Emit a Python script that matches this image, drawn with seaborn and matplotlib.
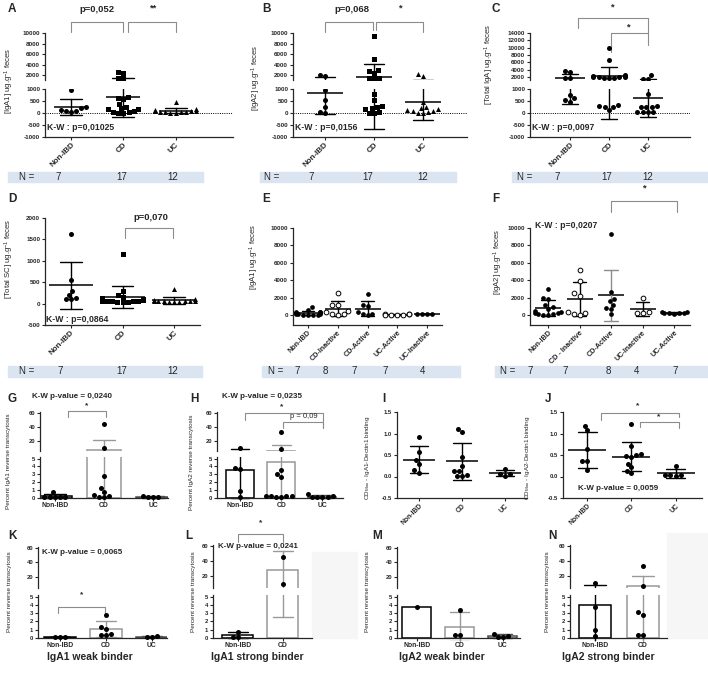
import pandas as pd
import matplotlib
matplotlib.use("Agg")
import matplotlib.pyplot as plt
from matplotlib.patches import Rectangle
from matplotlib.transforms import blended_transform_factory
import seaborn as sns
import warnings

warnings.filterwarnings("ignore")

# values
groups = ["Non-IBD", "CD", "UC"]
groups_e = ["Non-IBD", "CD-Inactive", "CD-Active", "UC-Active", "UC-Inactive"]
groups_f = ["Non-IBD", "CD - Inactive", "CD-Active", "UC-Inactive", "UC-Active"]

iga1 = {"Non-IBD": [950, 230, 210, 130, 90, 70, 60],
        "CD": [2600, 2500, 1450, 1450, 650, 610, 600, 380, 240, 200, 180, 150, 100, 50, 30, 20, 10],
        "UC": [470, 150, 120, 100, 100, 80, 60, 50, 40, 30, 20, 10]}
iga2 = {"Non-IBD": [2000, 1950, 950, 540, 260, 30, 20],
        "CD": [9400, 5100, 3100, 2800, 2500, 1500, 1450, 1500, 800, 550, 300, 200, 150, 60, 10, 20, 250],
        "UC": [2200, 1900, 450, 240, 200, 150, 120, 100, 80, 50, 20, 10]}
total_iga = {"Non-IBD": [3600, 3300, 1850, 1800, 750, 610, 540, 470],
             "CD": [10000, 6700, 2500, 2300, 2200, 2100, 2000, 2000, 1900, 1800, 1800, 1700,
                    330, 240, 130, 240, 290],
             "UC": [2500, 1400, 1400, 800, 300, 250, 230, 230, 60, 40, 30, 50]}
total_sc = {"Non-IBD": [1630, 540, 300, 120, 110, 100, 210],
            "CD": [1150, 300, 200, 150, 120, 100, 100, 90, 80, 70, 60, 60, 50, 50, 40, 40, 30],
            "UC": [330, 100, 80, 70, 60, 60, 50, 50, 40, 40, 30, 50]}
iga1_activity = {"Non-IBD": [900, 600, 400, 300, 250, 200, 150, 100, 100, 50, 50, 30, 20, 300, 200],
                 "CD-Inactive": [2500, 1200, 1100, 500, 400, 100, 50, 100],
                 "CD-Active": [2400, 1100, 1000, 300, 100, 50, 100],
                 "UC-Active": [100, 80, 50, 30, 40, 60, 20],
                 "UC-Inactive": [120, 60, 80, 150]}
iga2_activity = {"Non-IBD": [3000, 1900, 1850, 1100, 900, 700, 500, 300, 200, 100, 50, 50, 100, 200],
                 "CD - Inactive": [5200, 3900, 2500, 2200, 300, 50, 100, 250],
                 "CD-Active": [9300, 2700, 1800, 1600, 1200, 800, 700, 100],
                 "UC-Inactive": [1900, 300, 200, 250],
                 "UC-Active": [400, 250, 200, 150, 200, 250, 300]}
transcyt_iga1 = {"Non-IBD": [0.1, 0.1, 0.15, 0.1, 0.7, 0.1],
                 "CD": [44, 10, 2.8, 1.3, 0.8, 0.2, 0.05, 0.4, 0.1],
                 "UC": [0.1, 0.05, 0.1, 0.3]}
transcyt_iga2 = {"Non-IBD": [9.4, 3.8, 3.7, 0.9, 0.1],
                 "CD": [32, 8, 3.5, 3.0, 2.7, 0.25, 0.1, 0.05, 0.2, 0.25, 0.3],
                 "UC": [0.1, 0.05, 0.05, 0.1, 0.2, 0.5]}
dectin_iga1 = {"Non-IBD": [0.93, 0.56, 0.38, 0.28, 0.14, 0.08],
               "CD": [1.11, 1.04, 0.45, 0.25, 0.12, 0.12, 0.03, 0.02, 0.02],
               "UC": [0.18, 0.05, 0.02, 0.05]}
dectin_iga2 = {"Non-IBD": [1.17, 1.07, 0.64, 0.35, 0.35, 0.15],
               "CD": [1.23, 0.70, 0.52, 0.50, 0.48, 0.45, 0.30, 0.22, 0.13, 0.07],
               "UC": [0.25, 0.03, 0.02, 0.03, 0.04]}
iga1_weak = {"Non-IBD": [0.1, 0.05, 0.1], "CD": [2.8, 1.3, 1.06, 0.5, 0.3, 0.3], "UC": [0.25, 0.05, 0.1]}
iga1_strong = {"Non-IBD": [0.75, 0.05, 0.1], "CD": [46, 10]}
iga2_weak = {"Non-IBD": [3.7], "CD": [3.4, 0.3, 0.3], "UC": [0.15, 0.05, 0.1, 0.5]}
iga2_strong = {"Non-IBD": [11, 3.8, 1.0, 0.2], "CD": [33.4, 7.5, 3.1, 2.8, 0.3, 0.3]}

n_abc = ["7", "17", "12"]
n_e = ["7", "8", "7", "7", "4"]
n_f = ["7", "7", "8", "4", "7"]

sns.set_style("ticks")
plt.rcParams["font.family"] = ["Liberation Sans", "DejaVu Sans"]
plt.rcParams["font.weight"] = "bold"
plt.rcParams["mathtext.fontset"] = "custom"
plt.rcParams["mathtext.rm"] = "Liberation Sans"
plt.rcParams["mathtext.it"] = "Liberation Sans:italic"
plt.rcParams["mathtext.bf"] = "Liberation Sans:bold"
plt.rcParams["axes.unicode_minus"] = False
plt.rcParams["axes.linewidth"] = 0.9

W, H = 708, 677
fig = plt.figure(figsize=(W / 100, H / 100), dpi=100)
ov = fig.add_axes([0, 0, 1, 1])
ov.set_xlim(0, W)
ov.set_ylim(H, 0)
ov.axis("off")


def px_axes(x0, x1, y0, y1):
    ax = fig.add_axes([x0 / W, 1 - y1 / H, (x1 - x0) / W, (y1 - y0) / H])
    ax.set_facecolor("none")
    return ax


def to_long(d):
    return pd.DataFrame([(g, v) for g, vals in d.items() for v in vals], columns=["group", "value"])


def in_range(sub, lim):
    return sub[(sub["value"] >= lim[0]) & (sub["value"] <= lim[1])]


def finish(ax, xlim, ylim, yticks, fs_y, fs_x=None, zero_spine=False):
    ax.set_xlim(*xlim)
    ax.set_ylim(*ylim)
    ax.set_yticks(yticks)
    ax.set_xlabel("")
    ax.set_ylabel("")
    ax.spines[["top", "right"]].set_visible(False)
    ax.tick_params(axis="y", length=2.5, width=0.8, pad=1, labelsize=fs_y)
    if fs_x is None:
        ax.spines["bottom"].set_visible(False)
        ax.tick_params(axis="x", bottom=False, labelbottom=False)
    else:
        ax.tick_params(axis="x", length=2, width=0.8, pad=1, labelsize=fs_x)
        plt.setp(ax.get_xticklabels(), rotation=45, ha="right", rotation_mode="anchor")
    if zero_spine:
        ax.spines["bottom"].set_position(("data", 0))
        ax.spines["left"].set_bounds(0, ylim[1])


def scatter_panel(x0, x1, rows, xlim, data, order, markers, filled, ylims, yticks,
                  err_colors=None, zero_line=False, mean_w=0.8, fs_y=4.5, fs_x=5.8, size=3.6):
    spacing = (x1 - x0) / (xlim[1] - xlim[0])
    axes = [px_axes(x0, x1, a, b) for a, b in rows]
    df = to_long(data)
    for ax, lim in zip(axes, ylims):
        for i, g in enumerate(order):
            sub = df[df["group"] == g]
            if filled[i]:
                kw = dict(color="black", linewidth=0)
            else:
                kw = dict(color="white", edgecolor="black", linewidth=0.7)
            pts = in_range(sub, lim)
            if len(pts):
                sns.swarmplot(data=pts, x="group", y="value", order=order, marker=markers[i],
                              size=size, ax=ax, **kw)
            ec = err_colors[i] if err_colors else "black"
            sns.pointplot(data=sub, x="group", y="value", order=order, errorbar="sd", color="black",
                          marker="_", markersize=mean_w * spacing * 0.72, markeredgewidth=1.1,
                          linestyle="none", capsize=0.42,
                          err_kws={"linewidth": 1.0, "color": ec}, ax=ax)
    for k, ax in enumerate(axes):
        last = k == len(axes) - 1
        finish(ax, xlim, ylims[k], yticks[k], fs_y, fs_x if last else None)
    if zero_line:
        axes[-1].axhline(0, color="black", lw=0.7, ls=(0, (1, 1.3)), zorder=0)
    return axes


def bar_panel(x0, x1, top_rows, bot_rows, xlim, data, order, edges, fs_y=4.2, fs_x=4.9):
    axes = [px_axes(x0, x1, *top_rows), px_axes(x0, x1, *bot_rows)]
    lims = [(5, 61), (-0.4, 5.2)]
    df = to_long(data)
    for ax, lim in zip(axes, lims):
        for g, ec in zip(order, edges):
            sub = df[df["group"] == g]
            sns.barplot(data=sub, x="group", y="value", order=order, errorbar="sd", color="white",
                        edgecolor=ec, linewidth=1.1, width=0.68, capsize=0.45,
                        err_kws={"linewidth": 1.0, "color": ec}, ax=ax)
            pts = in_range(sub, lim)
            if len(pts):
                sns.swarmplot(data=pts, x="group", y="value", order=order, color="black",
                              size=3.6, ax=ax)
    finish(axes[0], xlim, lims[0], [20, 40, 60], fs_y)
    finish(axes[1], xlim, lims[1], [0, 1, 2, 3, 4, 5], fs_y, fs_x, zero_spine=True)
    return axes


def bracket(ax, x1, x2, ytop, yb1, yb2, color="0.55"):
    tr = blended_transform_factory(ax.transData, ov.transData)
    ax.plot([x1, x1, x2, x2], [yb1, ytop, ytop, yb2], color=color, lw=0.8,
            transform=tr, clip_on=False)


def note(ax, x, y, s, size=6.8, weight="bold"):
    tr = blended_transform_factory(ax.transData, ov.transData)
    ax.text(x, y, s, transform=tr, ha="center", va="center", fontsize=size, fontweight=weight)


# ---- row 1 ----
yl_split = [(1150, 10000), (-1000, 1000)]
yt_split = [[2000, 4000, 6000, 8000, 10000], [-1000, -500, 0, 500, 1000]]
rows1 = [(33, 80), (89, 137)]
axA = scatter_panel(45, 233, rows1, (-0.5, 3.1), iga1, groups, ["o", "s", "^"], [1, 1, 1],
                    yl_split, yt_split, zero_line=True, mean_w=0.65)
axB = scatter_panel(293, 467, rows1, (-0.65, 2.9), iga2, groups, ["o", "s", "^"], [1, 1, 1],
                    yl_split, yt_split, zero_line=True, mean_w=0.75)
axC = scatter_panel(530, 690, rows1, (-1.03, 3.08), total_iga, groups, ["o", "o", "o"], [1, 1, 1],
                    [(1180, 14000), (-1000, 1000)],
                    [list(range(2000, 14001, 2000)), [-1000, -500, 0, 500, 1000]],
                    zero_line=True, mean_w=0.77)

bracket(axA[0], 0, 1, 21.7, 31.7, 31.7)
bracket(axA[0], 1.08, 2, 21.7, 31.7, 31.7)
note(axA[0], 0.5, 10, "p=0,052")
note(axA[0], 1.57, 8, "**")
bracket(axB[0], 0, 0.98, 21.7, 31.7, 30)
bracket(axB[0], 1.05, 2, 21.7, 30, 31.7)
note(axB[0], 0.55, 10, "p=0,068")
note(axB[0], 1.53, 8, "*")
bracket(axC[0], 0.2, 2, 18, 28, 33)
bracket(axC[0], 1.05, 2, 33, 52, 45)
note(axC[0], 1.08, 7, "*")
note(axC[0], 1.49, 27, "*")

# ---- row 2 ----
axD = scatter_panel(45, 200, [(218, 325)], (-0.5, 2.5), total_sc, groups, ["o", "s", "^"], [1, 1, 1],
                    [(-500, 2000)], [[-500, 0, 500, 1000, 1500, 2000]], mean_w=0.87)
axE = scatter_panel(293, 442, [(228, 325)], (-0.5, 4.5), iga1_activity, groups_e,
                    ["o"] * 5, [1, 0, 1, 0, 1], [(-1150, 10000)],
                    [[0, 2000, 4000, 6000, 8000, 10000]], mean_w=0.9, fs_x=5.2, size=3.4)
axF = scatter_panel(530, 690, [(228, 325)], (-0.57, 4.5), iga2_activity, groups_f,
                    ["o"] * 5, [1, 0, 1, 0, 1], [(-1150, 10000)],
                    [[0, 2000, 4000, 6000, 8000, 10000]],
                    err_colors=["black", "black", "0.55", "black", "black"], mean_w=0.85,
                    fs_x=5.2, size=3.4)
bracket(axD[0], 1.05, 1.98, 228, 238, 238)
note(axD[0], 1.55, 217, "p=0,070")
bracket(axF[0], 2, 4.1, 201, 212, 212)
note(axF[0], 3.05, 188, "*")

# ---- row 3 ----
top3, bot3 = (412, 451), (457, 501)
axG = bar_panel(40, 168, top3, bot3, (-0.3, 2.3), transcyt_iga1, groups, ["black", "0.6", "0.3"])
axH = bar_panel(217, 343, top3, bot3, (-0.56, 2.5), transcyt_iga2, groups, ["black", "0.6", "0.3"])
axI = scatter_panel(397, 527, [(412, 498)], (-0.5, 2.5), dectin_iga1, groups, ["o"] * 3, [1, 1, 1],
                    [(-0.5, 1.5)], [[-0.5, 0.0, 0.5, 1.0, 1.5]], mean_w=0.75, fs_y=4.2, fs_x=4.9)
axJ = scatter_panel(563, 702, [(412, 498)], (-0.55, 2.6), dectin_iga2, groups, ["o"] * 3, [1, 1, 1],
                    [(-0.5, 1.5)], [[-0.5, 0.0, 0.5, 1.0, 1.5]], mean_w=0.85, fs_y=4.2, fs_x=4.9)
bracket(axG[0], 0.27, 1.04, 411, 417, 417)
note(axG[0], 0.65, 406, "*", size=6)
bracket(axH[0], 0.12, 2.02, 413, 420, 428)
bracket(axH[0], 1.05, 2.02, 422, 428, 428)
note(axH[0], 1.02, 407, "*", size=6)
note(axH[0], 1.55, 416, "p = 0,09", size=5.5, weight="normal")
bracket(axJ[0], 0.3, 2.07, 413, 420, 417)
bracket(axJ[0], 1.2, 2.07, 422, 427, 428)
note(axJ[0], 1.14, 406, "*", size=6)
note(axJ[0], 1.61, 417, "*", size=6)

# ---- row 4 ----
ov.add_patch(Rectangle((312, 552), 45, 86, color="#f6f6f6", zorder=0))
ov.add_patch(Rectangle((667, 533), 41, 105, color="#f6f6f6", zorder=0))
axK = bar_panel(38, 167, (547, 588), (595, 641), (-0.48, 2.33), iga1_weak, groups,
                ["black", "0.6", "0.3"])
axL = bar_panel(213, 312, (545, 588), (595, 641), (-0.55, 1.65), iga1_strong, groups[:2],
                ["black", "0.6"])
axM = bar_panel(397, 520, (547, 588), (595, 641), (-0.46, 2.4), iga2_weak, groups,
                ["black", "0.6", "0.3"])
axN = bar_panel(570, 667, (545, 588), (595, 641), (-0.52, 1.5), iga2_strong, groups[:2],
                ["black", "0.6"])
bracket(axK[1], -0.04, 0.98, 607, 613, 613)
note(axK[1], 0.48, 595, "*", size=6)
bracket(axL[0], 0, 1, 534, 542, 542)
note(axL[0], 0.5, 523, "*", size=6)

# ---- figure text ----
letters = [("A", 8, 9), ("B", 262, 9), ("C", 492, 9), ("D", 8, 199), ("E", 262, 199),
           ("F", 492, 199), ("G", 8, 399), ("H", 190, 399), ("I", 382, 399), ("J", 545, 399),
           ("K", 8, 536), ("L", 185, 536), ("M", 372, 536), ("N", 548, 536)]
for s, x, y in letters:
    ov.text(x, y, s, fontsize=8.5, fontweight="bold", ha="left", va="center")

bands = [(8, 203, 172, 182), (260, 456, 172, 182), (512, 708, 172, 182),
         (8, 202, 366, 377), (262, 460, 366, 377), (495, 708, 366, 377)]
for x0, x1, y0, y1 in bands:
    ov.add_patch(Rectangle((x0, y0), x1 - x0, y1 - y0, color="#dbe5f1", zorder=0))

n_rows = [(177, 27, [58, 122, 173], n_abc), (177, 272, [311, 368, 423], n_abc),
          (177, 525, [557, 607, 648], n_abc), (371, 27, [60, 122, 173], n_abc),
          (371, 276, [297, 325, 354, 385, 423], n_e), (371, 508, [530, 565, 608, 637, 675], n_f)]
for y, xn, xs, vals in n_rows:
    ov.text(xn, y, "N =", fontsize=7, fontweight="normal", ha="center", va="center")
    for x, v in zip(xs, vals):
        ov.text(x, y, v, fontsize=7, fontweight="normal", ha="center", va="center")

kw_texts = [(47, 128, "K-W : p=0,01025"), (295, 128, "K-W : p=0,0156"), (532, 128, "K-W : p=0,0097"),
            (46, 319, "K-W : p=0,0864"), (535, 225, "K-W : p=0,0207"),
            (32, 396, "K-W p-value = 0,0240"), (222, 397, "K-W p-value = 0,0235"),
            (578, 488, "K-W p-value = 0,0059"), (42, 553, "K-W p-value = 0,0065"),
            (218, 546, "K-W p-value = 0,0241")]
for x, y, s in kw_texts:
    ov.text(x, y, s, fontsize=6.2 if ":" in s else 5.8, fontweight="bold", ha="left", va="center")

unit = r" ug.g$^{\mathregular{-1}}$ feces"
ylabels = [(9, 81, "[IgA1]" + unit, 5.6), (256, 78, "[IgA2]" + unit, 5.6),
           (489, 64, "[Total IgA]" + unit, 5.6), (9, 259, "[Total SC]" + unit, 5.6),
           (254, 257, "[IgA1]" + unit, 5.6), (498, 262, "[IgA2]" + unit, 5.6),
           (9, 461, "Percent IgA1 reverse transcytosis", 4.6),
           (192, 462, "Percent IgA2 reverse transcytosis", 4.6),
           (367, 458, r"OD$_{\mathregular{Max}}$ - IgA1-Dectin1 binding", 4.6),
           (527, 458, r"OD$_{\mathregular{Max}}$ - IgA2-Dectin1 binding", 4.6),
           (10, 592, "Percent reverse transcytosis", 4.6), (193, 592, "Percent reverse transcytosis", 4.6),
           (367, 592, "Percent reverse transcytosis", 4.6), (547, 592, "Percent reverse transcytosis", 4.6)]
for x, y, s, fs in ylabels:
    ov.text(x, y, s, fontsize=fs, fontweight="normal", rotation=90, ha="center", va="center")

titles = [(90, "IgA1 weak binder"), (257, "IgA1 strong binder"), (442, "IgA2 weak binder"),
          (608, "IgA2 strong binder")]
for x, s in titles:
    ov.text(x, 657, s, fontsize=7.5, fontweight="bold", ha="center", va="center")

fig.savefig("out.png", dpi=100)
